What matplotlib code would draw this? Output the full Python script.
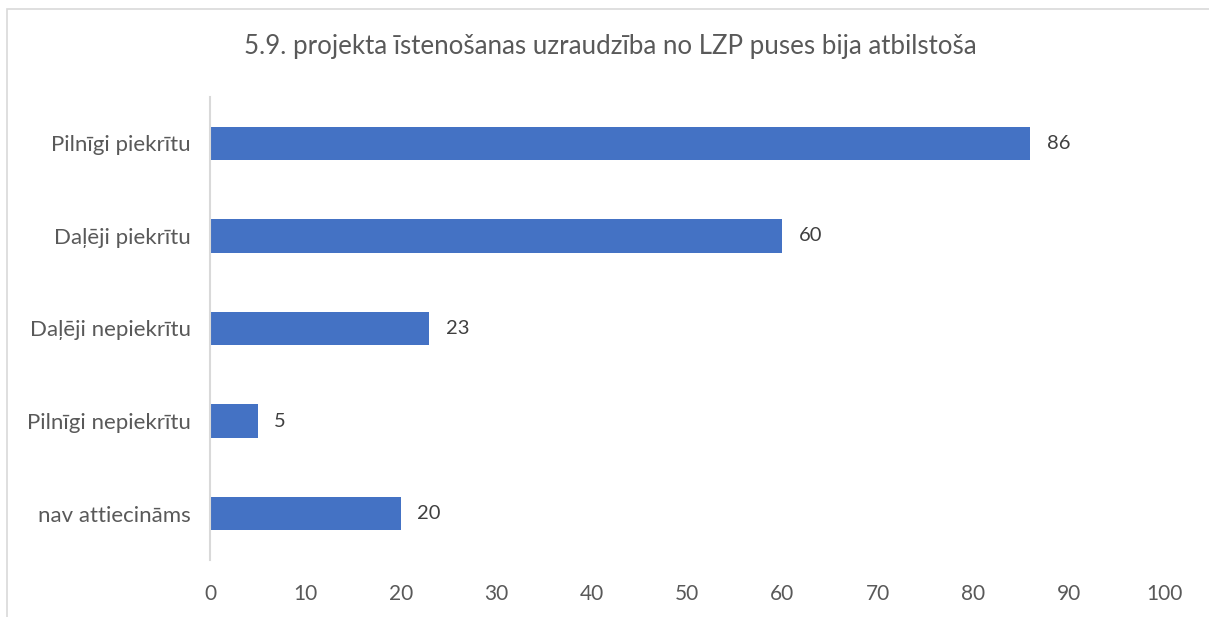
import matplotlib.pyplot as plt
from matplotlib.patches import Rectangle

# --- Data ---
categories = ["Pilnīgi piekrītu", "Daļēji piekrītu", "Daļēji nepiekrītu",
              "Pilnīgi nepiekrītu", "nav attiecināms"]
values = [86, 60, 23, 5, 20]
xticks = [0, 10, 20, 30, 40, 50, 60, 70, 80, 90, 100]
title = "5.9. projekta īstenošanas uzraudzība no LZP puses bija atbilstoša"

txt = "#595959"
bar_col = "#4472C4"
line_col = "#D9D9D9"

plt.rcParams['font.family'] = ['Lato', 'DejaVu Sans']

fig = plt.figure(figsize=(12.09, 6.17), dpi=100)
ax = fig.add_axes([0.1737, 0.0924, 0.9628 - 0.1737, 0.8428 - 0.0924])

# outer chart border (only left and top edges visible in the frame)
fig.patches.append(Rectangle((7 / 1209, -0.05), 1.1, 0.05 + 1 - 9 / 617,
                             transform=fig.transFigure, fill=False,
                             edgecolor=line_col, lw=1.2))

y = list(range(len(categories)))
ax.barh(y, values, height=0.36, color=bar_col)
ax.set_ylim(len(categories) - 0.5, -0.5)
ax.set_xlim(0, 100)

for yi, v in zip(y, values):
    ax.annotate(str(v), (v, yi), xytext=(12, 0), textcoords="offset points",
                va="center", ha="left", fontsize=14.5, color="#404040")

ax.set_yticks(y)
ax.set_yticklabels(categories, fontsize=16, color=txt)
ax.set_xticks(xticks)
ax.set_xticklabels([str(t) for t in xticks], fontsize=15, color=txt)
ax.tick_params(axis="both", length=0)
ax.tick_params(axis="y", pad=14)
ax.tick_params(axis="x", pad=17)

for s in ["top", "right", "bottom"]:
    ax.spines[s].set_visible(False)
ax.spines["left"].set_color(line_col)
ax.spines["left"].set_linewidth(1.5)

fig.text(0.5045, 0.924, title, ha="center", va="center", fontsize=18.6, color=txt)

fig.savefig("out.png", dpi=100)
